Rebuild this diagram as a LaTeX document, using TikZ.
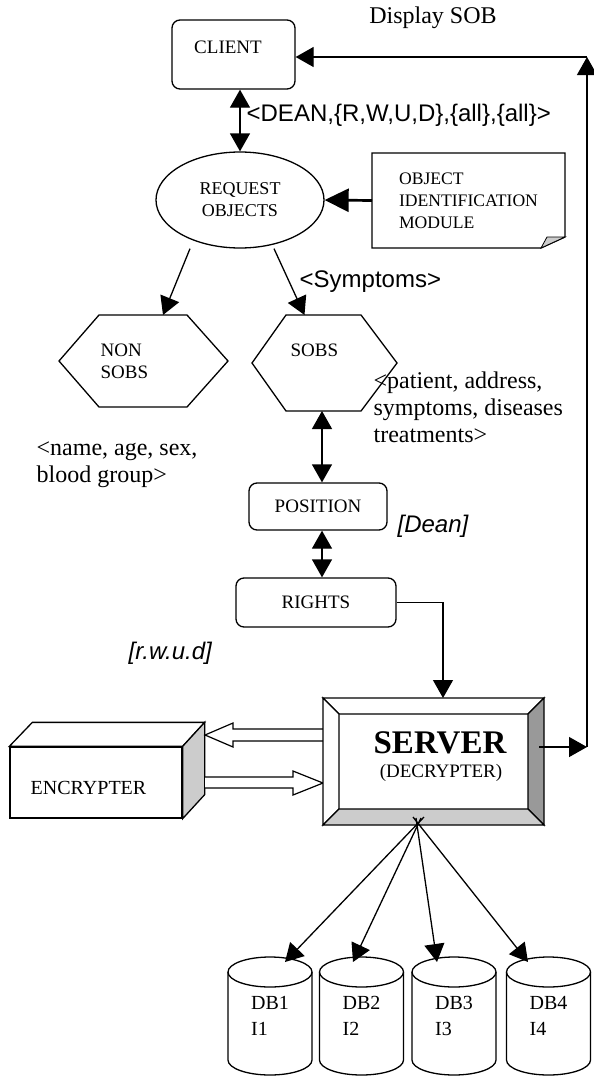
\documentclass[tikz,border=0pt]{standalone}
\usepackage{fontspec}
\setmainfont{Liberation Serif}
\setsansfont{Liberation Sans}
\usetikzlibrary{arrows.meta,shapes.geometric}
\newcommand\boxfnt{\fontsize{19}{22}\selectfont}
\newcommand\annfnt{\fontsize{24}{27}\selectfont}
\definecolor{bevdark}{gray}{0.6}
\definecolor{bevlight}{gray}{0.8}
\begin{document}
\begin{tikzpicture}[x=1pt,y=-1pt,line width=1.3pt,
  >={Triangle[length=18pt,width=20pt]},
  box/.style={draw, rounded corners=8pt, font=\boxfnt, inner sep=0pt},
  area/.style={inner sep=0pt, outer sep=0pt},
  txt/.style={font=\boxfnt, inner sep=0pt, align=left},
  annot/.style={font=\annfnt, inner sep=0pt, align=left},
  slabel/.style={font=\sffamily\annfnt, inner sep=0pt},
  ilabel/.style={font=\sffamily\itshape\annfnt, inner sep=0pt},
  hollow/.style={draw, fill=white, line width=1.2pt, line join=miter},
  bevel/.style={draw, line join=miter}]
\useasboundingbox (0,0) rectangle (594,1076);

% ---------- CLIENT ----------
\node[box, minimum width=123pt, minimum height=69pt] (client) at (233.5,54.5) {};
\node[txt] (clientlbl) at (228,47) {CLIENT};
\node[annot] (disp) at (433,18) {Display SOB};

% ---------- REQUEST OBJECTS ----------
\node[draw, ellipse, minimum width=168pt, minimum height=96pt, inner sep=0pt,
      align=center, font=\fontsize{18}{22}\selectfont] (req) at (240,200) {REQUEST\\OBJECTS};
\draw[<->] ([xshift=6.5pt]client.south) -- (req.north);
\node[slabel, anchor=west] (dean) at (246,115) {<DEAN,\{R,W,U,D\},\{all\},\{all\}>};

% ---------- OBJECT IDENTIFICATION MODULE (note) ----------
\node[area, minimum width=193pt, minimum height=95pt, align=left,
      font=\fontsize{17.6}{22}\selectfont] (objid) at (468.5,200.5)
      {OBJECT\\IDENTIFICATION\\MODULE};
\draw[line join=miter] (objid.north west) -- (objid.north east) -- ([yshift=11pt]objid.south east)
   -- ([xshift=-24pt]objid.south east) -- (objid.south west) -- cycle;
\draw[fill=bevlight, line width=0.8pt] ([xshift=-24pt]objid.south east) -- ([xshift=-18pt,yshift=11pt]objid.south east)
   -- ([yshift=11pt]objid.south east) -- cycle;
\draw[->, line width=2.7pt, >={Triangle[length=24pt,width=23pt]}] (objid.west) -- (req.east);

% ---------- hexagons ----------
\node[area, minimum width=169pt, minimum height=92pt] (nonsobs) at (143.5,361) {};
\draw[line join=miter] (nonsobs.west) -- ([xshift=40pt]nonsobs.north west) -- ([xshift=-41pt]nonsobs.north east)
   -- (nonsobs.east) -- ([xshift=-41pt]nonsobs.south east) -- ([xshift=40pt]nonsobs.south west) -- cycle;
\node[txt, anchor=west] (nonsobslbl) at (100,361) {NON\\SOBS};

\node[area, minimum width=145pt, minimum height=96pt] (sobs) at (324.5,363) {};
\draw[line join=miter] (sobs.west) -- ([xshift=34pt]sobs.north west) -- ([xshift=-36pt]sobs.north east)
   -- (sobs.east) -- ([xshift=-36pt]sobs.south east) -- ([xshift=34pt]sobs.south west) -- cycle;
\node[txt, anchor=west] (sobslbl) at (290,350) {SOBS};

\draw[->] ([xshift=-50pt]req.south) -- ([xshift=19.5pt]nonsobs.north);
\draw[->] ([xshift=34pt]req.south) -- ([xshift=-20pt]sobs.north);
\node[slabel, anchor=west] (symp) at (299,282) {<Symptoms>};

\node[annot, anchor=west] (patient) at (373,407) {<patient, address,\\symptoms, diseases\\treatments>};
\node[annot, anchor=west] (name) at (36,465) {<name, age, sex,\\blood group>};

% ---------- POSITION / RIGHTS ----------
\node[box, minimum width=138pt, minimum height=47pt] (pos) at (318,506.5) {POSITION};
\node[ilabel, anchor=west] (dean2) at (397,526) {[Dean]};
\draw[<->] ([xshift=-2.5pt]sobs.south) -- ([xshift=4pt]pos.north);

\node[box, minimum width=160pt, minimum height=49pt] (rights) at (316,602.5) {RIGHTS};
\draw[<->] ([xshift=4pt]pos.south) -- ([xshift=6pt]rights.north);
\node[ilabel, anchor=west] (rwud) at (128,653) {[r.w.u.d]};

% ---------- ENCRYPTER ----------
\node[draw, fill=white, minimum width=172pt, minimum height=71pt, inner sep=0pt] (enc) at (96,782.5) {};
\draw[fill=white, line join=miter] (enc.north west) -- ([xshift=23pt,yshift=24pt]enc.north west)
   -- ([xshift=22pt,yshift=24pt]enc.north east) -- (enc.north east) -- cycle;
\draw[fill=bevlight, line join=miter] (enc.north east) -- ([xshift=22pt,yshift=24pt]enc.north east)
   -- ([xshift=22pt,yshift=24pt]enc.south east) -- (enc.south east) -- cycle;
\node[txt, font=\fontsize{20}{24}\selectfont] (enclbl) at (88.5,788) {ENCRYPTER};

% hollow arrows between encrypter and server
\draw[hollow] (323,729) -- (233,729) -- (233,723) -- (205,735) -- (233,747) -- (233,741) -- (323,741);
\draw[hollow] (205,777) -- (293,777) -- (293,771) -- (323,783) -- (293,795) -- (293,788) -- (205,788);

% ---------- SERVER ----------
\node[area, minimum width=221pt, minimum height=127pt] (server) at (433.5,761.5) {};
\fill[white] (server.north west) rectangle (server.south east);
\draw[bevel, fill=white] (server.north west) -- (server.north east) -- ([xshift=-16pt,yshift=-16pt]server.north east)
   -- ([xshift=16pt,yshift=-16pt]server.north west) -- cycle;
\draw[bevel, fill=white] (server.north west) -- ([xshift=16pt,yshift=-16pt]server.north west)
   -- ([xshift=16pt,yshift=16pt]server.south west) -- (server.south west) -- cycle;
\draw[bevel, fill=bevdark] (server.north east) -- (server.south east) -- ([xshift=-16pt,yshift=16pt]server.south east)
   -- ([xshift=-16pt,yshift=-16pt]server.north east) -- cycle;
\draw[bevel, fill=bevlight] (server.south west) -- (server.south east) -- ([xshift=-16pt,yshift=16pt]server.south east)
   -- ([xshift=16pt,yshift=16pt]server.south west) -- cycle;
\node[inner sep=0pt, font=\fontsize{33}{36}\selectfont\bfseries] (servertitle) at (440,743) {SERVER};
\node[inner sep=0pt, font=\fontsize{19}{22}\selectfont] (serversub) at (441,773) {(DECRYPTER)};

\draw[->] (rights.east) -| ([xshift=9.5pt]server.north);

% ---------- return path to CLIENT ----------
\coordinate (c1) at (587,747);
\coordinate (c2) at (587,57);
\draw[->] ([xshift=-5pt,yshift=14.5pt]server.east) -- (c1);
\draw[->] (c1) -- (c2);
\draw[->] (c2) -- (client.east |- c2);

% ---------- databases ----------
\foreach \i/\cx in {1/270,2/361.5,3/454,4/548.5}{
  \node[area, minimum width=84pt, minimum height=118pt, align=left,
        font=\fontsize{20}{26}\selectfont] (db\i) at (\cx,1016) {DB\i\\I\i};
  \draw ([yshift=-15pt]db\i.north west) -- ([yshift=15pt]db\i.south west)
     arc[start angle=180, end angle=360, x radius=42pt, y radius=15pt]
     -- ([yshift=-15pt]db\i.north east);
  \draw ([yshift=-15pt]db\i.north) ellipse [x radius=42pt, y radius=15pt];
}
\draw[->] ([xshift=-9.5pt,yshift=8pt]server.south) -- ([xshift=15pt,yshift=-5pt]db1.north);
\draw[->] ([xshift=-12.5pt,yshift=7pt]server.south) -- ([xshift=-8.5pt,yshift=-5pt]db2.north);
\draw[->] ([xshift=-17.5pt,yshift=7pt]server.south) -- ([xshift=-17pt,yshift=-5pt]db3.north);
\draw[->] ([xshift=-20.5pt,yshift=8pt]server.south) -- ([xshift=-20.5pt,yshift=-5pt]db4.north);
\end{tikzpicture}
\end{document}
